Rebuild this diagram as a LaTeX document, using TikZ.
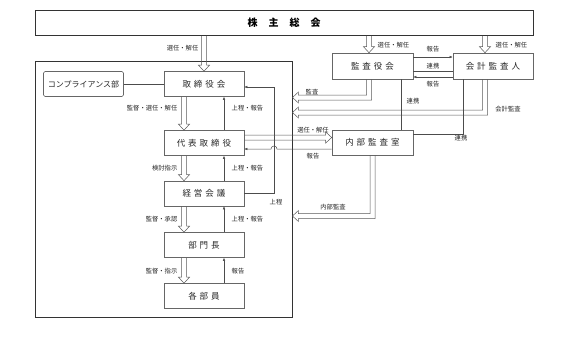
\documentclass[tikz,border=0pt]{standalone}
\usepackage{fontspec}
\setmainfont{Noto Sans CJK JP}
\usetikzlibrary{calc,arrows.meta}
\newcommand\kgap{\hspace{3pt}}
% vertical hollow arrow: x, from anchor, to anchor (tip)
\newcommand\hdown[3]{%
  \draw[hollow] (#1-2.5,0 |- #2) -- ($(#1-2.5,0 |- #3)+(0,-6)$) -- ($(#1-5.5,0 |- #3)+(0,-6)$)
    -- (#1,0 |- #3) -- ($(#1+5.5,0 |- #3)+(0,-6)$) -- ($(#1+2.5,0 |- #3)+(0,-6)$) -- (#1+2.5,0 |- #2);}
% horizontal hollow arrow to the right: y, from anchor, to anchor (tip)
\newcommand\hright[3]{%
  \draw[hollow] (0,#1-2.5 -| #2) -- ($(0,#1-2.5 -| #3)+(-6,0)$) -- ($(0,#1-5.5 -| #3)+(-6,0)$)
    -- (0,#1 -| #3) -- ($(0,#1+5.5 -| #3)+(-6,0)$) -- ($(0,#1+2.5 -| #3)+(-6,0)$) -- (0,#1+2.5 -| #2);}
% L-shaped hollow arrow: down then left. x, from anchor, y of bend, tip anchor
\newcommand\hdownleft[4]{%
  \draw[hollow] (#1-2.5,0 |- #2) -- (#1-2.5,#3-2.5) -- ($(0,#3-2.5 -| #4)+(6,0)$) -- ($(0,#3-5.5 -| #4)+(6,0)$)
    -- (0,#3 -| #4) -- ($(0,#3+5.5 -| #4)+(6,0)$) -- ($(0,#3+2.5 -| #4)+(6,0)$) -- (#1+2.5,#3+2.5) -- (#1+2.5,0 |- #2);}
\begin{document}
\begin{tikzpicture}[x=1pt,y=-1pt,
  box/.style={draw=black!60, line width=0.6pt, minimum width=80pt, minimum height=25pt, inner sep=0pt, text=black!85, font=\fontsize{8.5}{10}\selectfont},
  lbl/.style={font=\fontsize{6.3}{7}\selectfont, text=black!85, inner sep=0.5pt},
  ln/.style={draw=black!70, line width=0.5pt},
  arr/.style={ln, -{Latex[length=3pt,width=2.6pt]}},
  hollow/.style={draw=black!65, line width=0.5pt, line join=miter}]
\useasboundingbox (0,0) rectangle (576,338);

\node[box, draw=black!80, text=black, line width=0.9pt, minimum width=498pt, minimum height=25.5pt, font=\fontsize{10}{12}\selectfont\bfseries] (soukai) at (284,22.75) {株\hspace{11pt}主\hspace{11pt}総\hspace{11pt}会};
\node[draw=black!80, line width=0.9pt, minimum width=257pt, minimum height=256pt, inner sep=0pt] (org) at (163.5,189.5) {};

\node[box] (tb) at (204,84) {取\kgap 締\kgap 役\kgap 会};
\node[box, rounded corners=1.5pt, font=\fontsize{8}{9}\selectfont] (comp) at (83.5,84) {コンプライアンス部};
\node[box] (dh) at (204,143) {代\kgap 表\kgap 取\kgap 締\kgap 役};
\node[box] (kk) at (204,193.5) {経\kgap 営\kgap 会\kgap 議};
\node[box] (bm) at (204,245) {部\kgap 門\kgap 長};
\node[box] (kb) at (204,296) {各\kgap 部\kgap 員};
\node[box, minimum width=81pt, minimum height=26pt] (ky) at (372.5,66) {監\kgap 査\kgap 役\kgap 会};
\node[box, minimum height=26pt] (ka) at (493,66) {会\kgap 計\kgap 監\kgap 査\kgap 人};
\node[box, minimum width=81pt] (nb) at (372.5,142.5) {内\kgap 部\kgap 監\kgap 査\kgap 室};

\draw[ln] (comp) -- (tb);

\hdown{204}{soukai.south}{tb.north}
\hdown{184}{tb.south}{dh.north}
\hdown{184}{dh.south}{kk.north}
\hdown{184}{kk.south}{bm.north}
\hdown{184}{bm.south}{kb.north}
\hdown{369}{soukai.south}{ky.north}
\hdown{485}{soukai.south}{ka.north}

\draw[arr] (224,0 |- dh.north) -- (224,0 |- tb.south);
\draw[arr] (224,0 |- kk.north) -- (224,0 |- dh.south);
\draw[arr] (224,0 |- bm.north) -- (224,0 |- kk.south);
\draw[arr] (224,0 |- kb.north) -- (224,0 |- bm.south);

\draw[arr] (kk.east) -- (274,0 |- kk.east) -- (274,87) -- (tb.east |- 0,87);

\hright{137.5}{dh.east}{nb.west}
\draw[arr] (nb.west |- 0,149) -- (277,149) arc[start angle=0,end angle=-180,radius=3] -- (dh.east |- 0,149);

\hdownleft{369}{ky.south}{97.5}{org.east}
\hdownleft{485}{ka.south}{112.5}{org.east}
\hdownleft{372.5}{nb.south}{216}{org.east}

\draw[arr] (ky.east |- 0,57) -- (ka.west |- 0,57);
\draw[ln] (ky.east |- 0,71) -- (ka.west |- 0,71);
\draw[arr] (ka.west |- 0,77) -- (ky.east |- 0,77);

\draw[ln] (401,0 |- ky.south) -- (401,0 |- nb.north);
\draw[ln] (463,0 |- ka.south) -- (463,134) -- (nb.east |- 0,134);

\node[lbl, anchor=east] at (199,48) {選任・解任};
\node[lbl, anchor=west] at (377,45) {選任・解任};
\node[lbl, anchor=west] at (495,45) {選任・解任};
\node[lbl] at (433,49) {報告};
\node[lbl] at (433,66) {連携};
\node[lbl] at (433,84) {報告};
\node[lbl] at (312,92) {監査};
\node[lbl] at (413,101) {連携};
\node[lbl] at (508,109) {会計監査};
\node[lbl] at (461,138) {連携};
\node[lbl] at (313,130) {選任・解任};
\node[lbl] at (313,156) {報告};
\node[lbl] at (333,207) {内部監査};
\node[lbl] at (276,202) {上程};

\node[lbl, anchor=east] at (178,108) {監督・選任・解任};
\node[lbl, anchor=west] at (231,108) {上程・報告};
\node[lbl, anchor=east] at (178,168) {検討指示};
\node[lbl, anchor=west] at (231,168) {上程・報告};
\node[lbl, anchor=east] at (178,219) {監督・承認};
\node[lbl, anchor=west] at (231,219) {上程・報告};
\node[lbl, anchor=east] at (178,271) {監督・指示};
\node[lbl, anchor=west] at (231,271) {報告};
\end{tikzpicture}
\end{document}
